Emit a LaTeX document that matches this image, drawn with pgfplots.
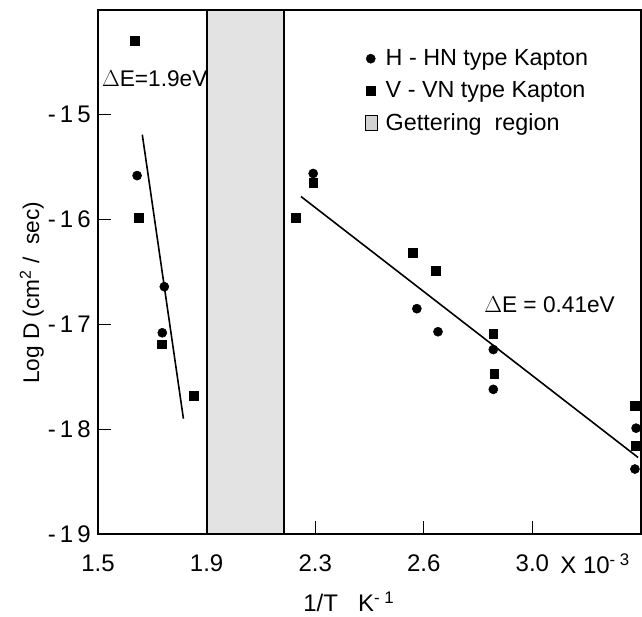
\documentclass[border=0pt]{standalone}
\usepackage{fontspec}
\setmainfont{Liberation Sans}
\usepackage{pgfplots}
\pgfplotsset{compat=1.18}
\usetikzlibrary{calc}

\pgfplotstableread{
x y
1.635 -15.58
1.729 -16.64
1.722 -17.08
2.243 -15.56
2.601 -16.85
2.674 -17.07
2.865 -17.24
2.865 -17.62
3.358 -17.99
3.354 -18.38
}\hdata

\pgfplotstableread{
x y
1.628 -14.29
1.642 -15.98
1.719 -17.19
1.830 -17.68
2.184 -15.98
2.243 -15.65
2.587 -16.32
2.667 -16.49
2.865 -17.09
2.868 -17.47
3.354 -17.78
3.358 -18.16
}\vdata

\begin{document}
\begin{tikzpicture}
\begin{axis}[
  scale only axis,
  width=407.25pt, height=393pt,
  xmin=1.5, xmax=3.375, ymin=-19, ymax=-14,
  xtick={1.5,1.875,2.25,2.625,3.0},
  xticklabels={1.5,1.9,2.3,2.6,3.0},
  ytick={-19,-18,-17,-16,-15},
  yticklabels={-\,1\,9,-\,1\,8,-\,1\,7,-\,1\,6,-\,1\,5},
  xtick pos=bottom, ytick pos=left,
  tick align=inside,
  major tick length=10pt,
  tick style={black, line width=1pt},
  axis line style={line width=1.3pt},
  xticklabel style={yshift=-12pt},
  yticklabel style={xshift=-2pt},
  tick label style={font=\fontsize{18}{21}\selectfont},
  /pgf/number format/assume math mode=true,
  clip=false,
  legend style={at={(0.483,0.935)}, anchor=north west, draw=none, fill=none,
    font=\fontsize{17.5}{20}\selectfont, row sep=6.5pt,
    legend cell align=left, nodes={inner xsep=6pt}},
  legend image code/.code={\draw[#1] plot coordinates {(0.2cm,0cm)};},
]
\addplot[only marks, mark=*, mark size=3.4pt, mark options={fill=black}] table {\hdata};
\addlegendentry{H - HN type Kapton}
\addplot[only marks, mark=square*, mark size=3.3pt, mark options={fill=black}] table {\vdata};
\addlegendentry{V - VN type Kapton}
\addplot[draw=black, line width=1.3pt, fill=gray!22,
  legend image code/.code={\draw[black, line width=0.8pt, fill=gray!35] (0.05cm,-0.2cm) rectangle (0.37cm,0.2cm);}]
  coordinates {(1.877,-19) (1.877,-14) (2.142,-14) (2.142,-19)} -- cycle;
\addlegendentry{Gettering \ region}

\addplot[black, line width=1.2pt, forget plot] coordinates {(1.653,-15.19) (1.795,-17.90)};
\addplot[black, line width=1.2pt, forget plot] coordinates {(2.201,-15.78) (3.365,-18.27)};

\node[anchor=west, font=\fontsize{17}{18}\selectfont, inner sep=0pt] at (axis cs:1.513,-14.66) {$\Delta$E=1.9eV};
\node[anchor=west, font=\fontsize{17}{18}\selectfont, inner sep=0pt] at (axis cs:2.833,-16.81) {$\Delta$E = 0.41eV};
\node[anchor=base west, font=\fontsize{18}{21}\selectfont, inner sep=0pt] at (axis description cs:0.851,-0.076) {X 10\textsuperscript{- 3}};
\node[font=\fontsize{18}{21}\selectfont] at (axis description cs:0.462,-0.13) {1/T\ \ \ K\textsuperscript{- 1}};
\node[rotate=90, font=\fontsize{17}{18}\selectfont] at (axis description cs:-0.122,0.46) {Log D (cm\textsuperscript{2} / \ sec)};
\end{axis}
\path[use as bounding box] ($(current axis.south west)+(-73.5pt,-62.25pt)$) rectangle ($(current axis.north east)+(0.75pt,7.5pt)$);
\end{tikzpicture}
\end{document}
